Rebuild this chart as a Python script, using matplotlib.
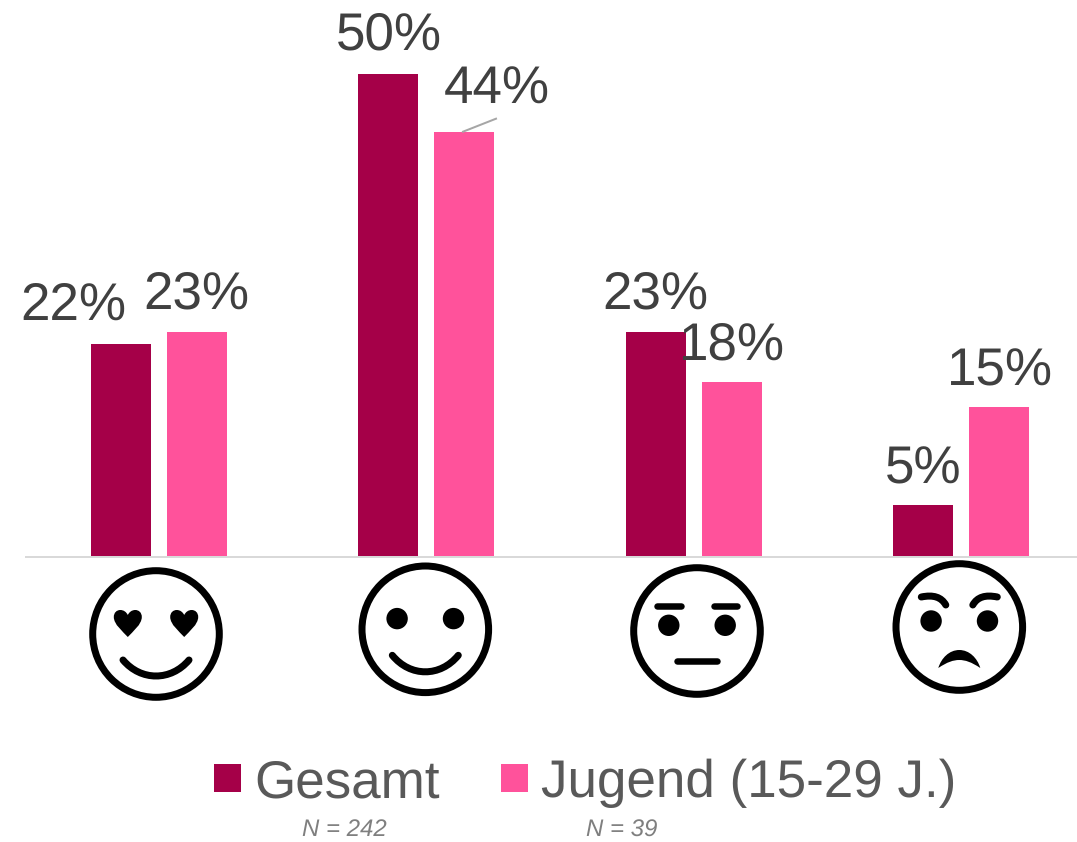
import matplotlib
matplotlib.use("Agg")
import matplotlib.pyplot as plt
import numpy as np
from matplotlib.path import Path
from matplotlib.patches import PathPatch, Circle

plt.rcParams['font.family'] = ['Liberation Sans', 'DejaVu Sans']
plt.rcParams['text.hinting'] = 'none'
plt.rcParams['text.hinting_factor'] = 1

categories = ['sehr gut', 'gut', 'mittel', 'schlecht']
gesamt = [22, 50, 23.3, 5.3]
jugend = [23.3, 44, 18.1, 15.5]
gesamt_labels = ['22%', '50%', '23%', '5%']
jugend_labels = ['23%', '44%', '18%', '15%']
series_names = ['Gesamt', 'Jugend (15-29 J.)']
n_labels = ['N = 242', 'N = 39']
COL_G, COL_J = '#A50048', '#FF529B'

W, H = 1077, 842
PX = 72 / 100
fig = plt.figure(figsize=(W / 100, H / 100), dpi=100, facecolor='white')

base_y = 556.5
left = 25.5
ax = fig.add_axes([left / W, (H - base_y) / H, (W - left) / W, base_y / H])
ax.patch.set_alpha(0)
step = 267.3
ax.set_xlim(-0.5, -0.5 + (W - left) / step)
ax.set_ylim(0, base_y / 9.65)
for s in ['top', 'left', 'right']:
    ax.spines[s].set_visible(False)
ax.spines['bottom'].set_color('#D9D9D9')
ax.spines['bottom'].set_linewidth(2 * PX)
ax.set_yticks([])
ax.set_xticks([])

x = np.arange(len(categories))
off, bw = 38 / step, 60 / step
b1 = ax.bar(x - off, gesamt, bw, color=COL_G, label=series_names[0])
b2 = ax.bar(x + off, jugend, bw, color=COL_J, label=series_names[1])

lab_kw = dict(textcoords='offset pixels', ha='center', va='baseline',
              fontsize=38, color='#404040', annotation_clip=False)
g_off = [(-48, 24.5), (0, 25), (0, 23.5), (0, 22)]
j_off = [(-1, 23.5), (32, 28), (0.5, 22), (0.5, 21.5)]
for i in x:
    ax.annotate(gesamt_labels[i], (i - off, gesamt[i]), xytext=g_off[i], **lab_kw)
    ax.annotate(jugend_labels[i], (i + off, jugend[i]), xytext=j_off[i], **lab_kw)

ax.legend(loc='lower left', bbox_to_anchor=(214 / W, (H - 808) / H),
          bbox_transform=fig.transFigure, ncol=2, frameon=False, fontsize=38.2,
          labelcolor='#595959', handlelength=0.51, handleheight=0.414,
          handletextpad=0.25, columnspacing=1.15, borderpad=0, borderaxespad=0)

# overlay in pixel coordinates for the decorations
ov = fig.add_axes([0, 0, 1, 1])
ov.set_xlim(0, W)
ov.set_ylim(H, 0)
ov.axis('off')
ov.patch.set_alpha(0)

# leader line for 44%
ov.plot([463, 496], [131.7, 118.7], color='#A6A6A6', lw=2 * PX)

ov.text(302, 836.5, n_labels[0], fontsize=17, style='italic', color='#7F7F7F', va='baseline')
ov.text(586, 836.5, n_labels[1], fontsize=17, style='italic', color='#7F7F7F', va='baseline')

LW = 7 * PX
def stroke(verts, codes=None, lw=LW):
    ov.add_patch(PathPatch(Path(verts, codes), fc='none', ec='black', lw=lw,
                           capstyle='round', joinstyle='round'))

def face(cx, cy):
    ov.add_patch(Circle((cx, cy), 63.3, fc='white', ec='black', lw=LW))

def eyes(cx, cy, dy):
    for s in (-28.2, 28.2):
        ov.add_patch(Circle((cx + s, cy + dy), 10.7, fc='black', ec='none'))

def smile(cx, cy, top, bottom):
    ctrl = top + (bottom - top) / 0.75
    stroke([(cx - 33, cy + top), (cx - 15, cy + ctrl), (cx + 15, cy + ctrl), (cx + 33, cy + top)],
           [Path.MOVETO, Path.CURVE4, Path.CURVE4, Path.CURVE4])

def heart(cx, cy):
    v = [(0, 13.5), (-5, 8), (-14, 1), (-14, -6.5), (-14, -11), (-11, -13.5), (-7.5, -13.5),
         (-4, -13.5), (-1.5, -11.5), (0, -8.5), (1.5, -11.5), (4, -13.5), (7.5, -13.5),
         (11, -13.5), (14, -11), (14, -6.5), (14, 1), (5, 8), (0, 13.5), (0, 13.5)]
    c = [Path.MOVETO] + [Path.CURVE4] * 18 + [Path.CLOSEPOLY]
    ov.add_patch(PathPatch(Path([(cx + a, cy + b) for a, b in v], c), fc='black', ec='none'))

# face 1
fx, fy = 156, 634
face(fx, fy)
heart(fx - 28.2, fy - 10.5)
heart(fx + 28.2, fy - 10.5)
smile(fx, fy, 26, 42)

# face 2
fx, fy = 425.3, 629.3
face(fx, fy)
eyes(fx, fy, -10.7)
smile(fx, fy, 26, 42.5)

# face 3
fx, fy = 697, 631
face(fx, fy)
eyes(fx, fy, -5.7)
for a, b in ((-40, -16.5), (16.5, 40)):
    stroke([(fx + a, fy - 25), (fx + b, fy - 25)], lw=6.5 * PX)
stroke([(fx - 20, fy + 30), (fx + 20, fy + 30)], lw=6.5 * PX)

# face 4
fx, fy = 959.3, 627
face(fx, fy)
eyes(fx, fy, -6)
for s in (-1, 1):
    stroke([(fx + s * 38, fy - 30), (fx + s * 26, fy - 32.5), (fx + s * 18, fy - 30), (fx + s * 13.5, fy - 22)],
           [Path.MOVETO, Path.CURVE4, Path.CURVE4, Path.CURVE4], lw=7 * PX)
v = [(-21, 41), (-18, 31), (-10, 23), (0, 23), (10, 23), (18, 31), (21, 41),
     (12, 35), (6, 33), (0, 33), (-6, 33), (-12, 35), (-21, 41), (-21, 41)]
c = [Path.MOVETO] + [Path.CURVE4] * 12 + [Path.CLOSEPOLY]
ov.add_patch(PathPatch(Path([(fx + a, fy + b) for a, b in v], c), fc='black', ec='none'))

fig.savefig('out.png', dpi=100, facecolor='white')
